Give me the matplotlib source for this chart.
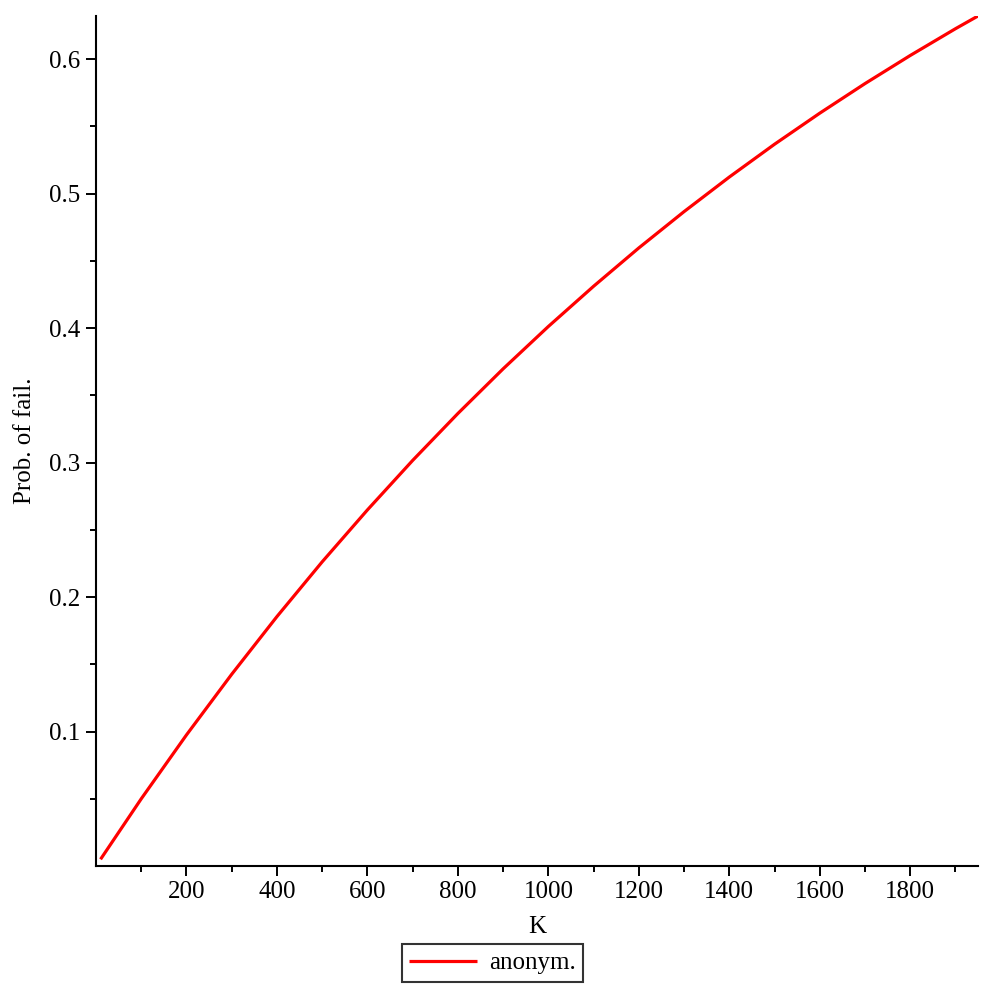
import matplotlib
matplotlib.use("Agg")
import matplotlib.pyplot as plt
from matplotlib.ticker import FixedLocator

# Values
K = [10, 100, 200, 300, 400, 500, 600, 700, 800, 900, 1000, 1100, 1200,
     1300, 1400, 1500, 1600, 1700, 1800, 1900, 1950]
prob = [0.005, 0.050, 0.0975, 0.1426, 0.1855, 0.2262, 0.2648, 0.3016, 0.3365,
        0.3697, 0.4012, 0.4311, 0.4596, 0.4866, 0.5123, 0.5367, 0.5598, 0.5818,
        0.6027, 0.6226, 0.6321]
x_major = [200, 400, 600, 800, 1000, 1200, 1400, 1600, 1800]
x_minor = [100, 300, 500, 700, 900, 1100, 1300, 1500, 1700, 1900]
y_major = [0.1, 0.2, 0.3, 0.4, 0.5, 0.6]
y_major_labels = ['0.1', '0.2', '0.3', '0.4', '0.5', '0.6']
y_minor = [0.05, 0.15, 0.25, 0.35, 0.45, 0.55]
series_label = "anonym."
x_label = "K"
y_label = "Prob. of fail."

plt.rcParams['font.family'] = ['Liberation Serif', 'DejaVu Serif']

fig = plt.figure(figsize=(9.94, 9.96), dpi=100)
ax = fig.add_axes([0.0966, 0.1305, 0.8874, 0.8535])

line, = ax.plot(K, prob, color='#ff0000', lw=2.3, label=series_label,
                solid_capstyle='butt')

ax.set_xlim(0, 1950)
ax.set_ylim(0, 0.6321)

for s in ['top', 'right']:
    ax.spines[s].set_visible(False)
for s in ['left', 'bottom']:
    ax.spines[s].set_linewidth(1.5)

ax.xaxis.set_major_locator(FixedLocator(x_major))
ax.xaxis.set_minor_locator(FixedLocator(x_minor))
ax.yaxis.set_major_locator(FixedLocator(y_major))
ax.yaxis.set_minor_locator(FixedLocator(y_minor))
ax.set_yticklabels(y_major_labels)

ax.tick_params(which='major', direction='out', length=7, width=1.4,
               labelsize=18, pad=4)
ax.tick_params(which='minor', direction='out', length=4.5, width=1.4)

ax.set_xlabel(x_label, fontsize=18, labelpad=9)
ax.set_ylabel(y_label, fontsize=18, labelpad=10)

leg = fig.legend(handles=[line], loc='center', bbox_to_anchor=(0.4955, 0.033),
                 fontsize=18, frameon=True, fancybox=False, handlelength=2.7,
                 borderpad=0.3, handletextpad=0.5, borderaxespad=0)
leg.get_frame().set_edgecolor('black')
leg.get_frame().set_linewidth(1.5)
for t in leg.get_texts():
    t.set_color('black')

fig.savefig('out.png', dpi=100)
